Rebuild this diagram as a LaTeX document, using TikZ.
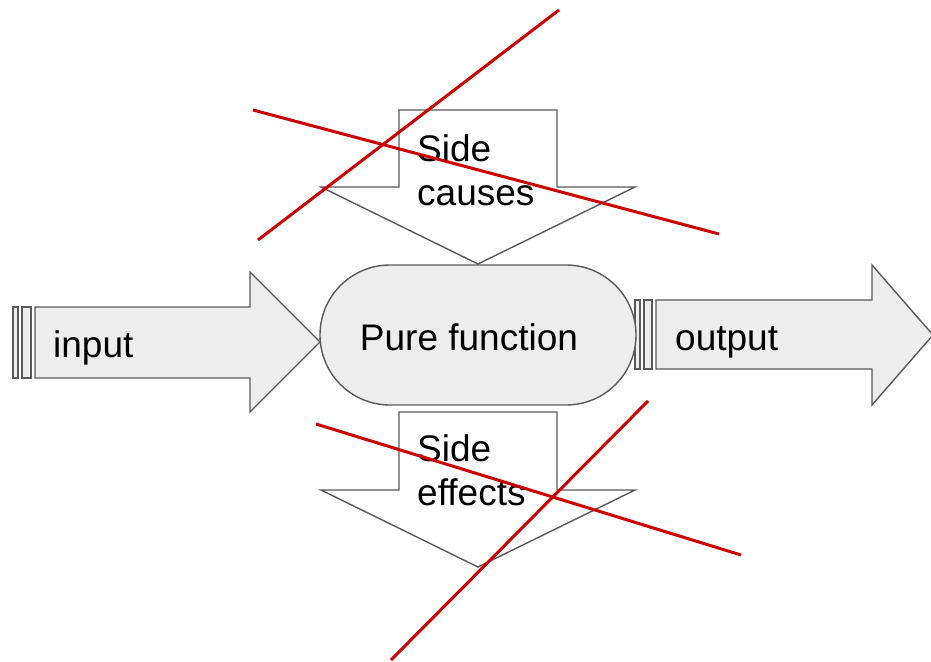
\documentclass[tikz,border=0pt]{standalone}
\usepackage{fontspec}
\setmainfont{Liberation Sans}
\begin{document}
\begin{tikzpicture}[x=1pt,y=-1pt,
  outline/.style={draw=black!65, line width=1.4pt, line join=miter},
  flatfill/.style={outline, fill=black!7},
  hollow/.style={outline, fill=white},
  cross/.style={draw=red!80!black, line width=3pt},
  label/.style={font=\fontsize{37}{44}\selectfont, inner sep=0pt, align=left}]
\useasboundingbox (0,0) rectangle (931,661);

% input arrow with striped tail
\draw[flatfill] (13,307) rectangle (18,378);
\draw[flatfill] (22,307) rectangle (31,378);
\draw[flatfill] (35,307) -- (250,307) -- (250,272) -- (320,342) -- (250,412) -- (250,378) -- (35,378) -- cycle;

% output arrow with striped tail
\draw[flatfill] (635,300) rectangle (640,369);
\draw[flatfill] (644,300) rectangle (652,369);
\draw[flatfill] (656,300) -- (872,300) -- (872,265) -- (933,335) -- (872,405) -- (872,369) -- (656,369) -- cycle;

% the function itself: a stadium shape
\draw[flatfill, rounded corners=69.9pt] (320,265) rectangle (636,405);
\node[label, anchor=base] (pure) at (469,350) {Pure function};

% side causes arrow
\draw[hollow] (399,110) -- (557,110) -- (557,187) -- (635,187) -- (478,264) -- (321,187) -- (399,187) -- cycle;
\node[label, anchor=base west] (causes) at (417,205) {Side\\causes};

% side effects arrow
\draw[hollow] (399,412) -- (557,412) -- (557,490) -- (635,490) -- (478,567) -- (321,490) -- (399,490) -- cycle;
\node[label, anchor=base west] (effects) at (417,505) {Side\\effects};

\node[label, anchor=base west] (input) at (53,357) {input};
\node[label, anchor=base west] (output) at (675,350) {output};

% strike-through lines
\coordinate (c1a) at (258,240); \coordinate (c1b) at (559,10);
\coordinate (c2a) at (253,110); \coordinate (c2b) at (719,234);
\coordinate (e1a) at (316,424); \coordinate (e1b) at (741,555);
\coordinate (e2a) at (391,660); \coordinate (e2b) at (648,401);
\draw[cross] (c1a) -- (c1b);
\draw[cross] (c2a) -- (c2b);
\draw[cross] (e1a) -- (e1b);
\draw[cross] (e2a) -- (e2b);
\end{tikzpicture}
\end{document}
